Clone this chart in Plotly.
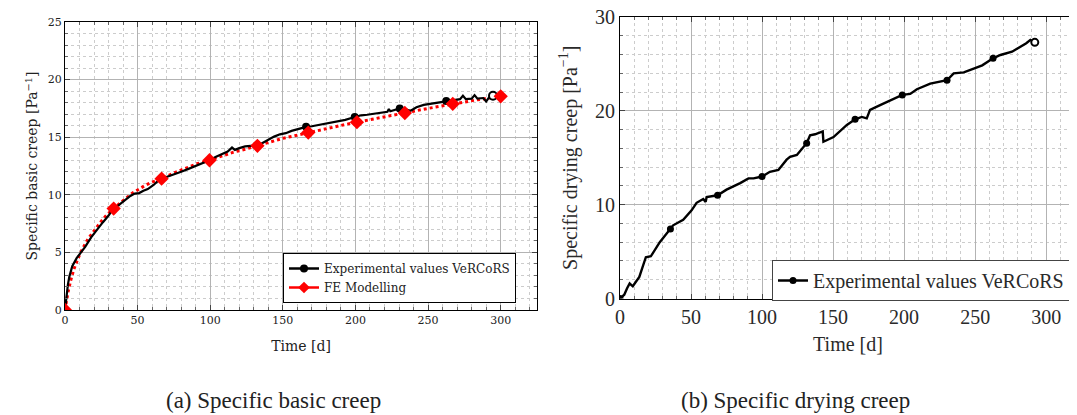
import plotly.graph_objects as go

# ---------------- data: (a) specific basic creep ----------------
exp_basic_t = [0, 1, 2, 3, 5, 8, 11, 14, 18, 22, 26, 30, 33, 37, 41, 45, 48, 51, 54, 57, 61, 64, 66.5,
               70, 75, 80, 85, 90, 95, 99.5, 104, 108, 112, 115, 117, 120, 124, 128, 132.5, 136, 140,
               144, 148, 152, 156, 160, 166, 170, 174, 178, 183, 188, 193, 199.5, 204, 208, 213, 218,
               222, 223, 224, 230.5, 234, 238, 242, 247, 252, 257, 262.5, 268, 272, 274, 276, 280, 282,
               284, 288, 290, 292, 294.7]
exp_basic_v = [0, 1.2, 2.2, 2.9, 3.8, 4.5, 5.0, 5.5, 6.3, 7.0, 7.6, 8.2, 8.75, 9.1, 9.5, 9.9, 10.1,
               10.15, 10.35, 10.5, 10.85, 11.2, 11.4, 11.55, 11.75, 12.0, 12.25, 12.5, 12.75, 13.0,
               13.3, 13.5, 13.75, 14.1, 13.9, 14.05, 14.2, 14.25, 14.3, 14.5, 14.8, 15.05, 15.25,
               15.35, 15.55, 15.7, 15.9, 15.95, 16.05, 16.1, 16.25, 16.4, 16.5, 16.75, 16.9, 16.95,
               17.05, 17.15, 17.2, 17.45, 17.25, 17.5, 17.45, 17.3, 17.6, 17.8, 17.9, 18.0, 18.15,
               18.2, 18.3, 18.6, 18.3, 18.35, 18.65, 18.35, 18.4, 18.1, 18.45, 18.6]
exp_basic_mark_t = [0, 33, 66.5, 99.5, 132.5, 166, 199.5, 230.5, 262.5]
exp_basic_mark_v = [0, 8.75, 11.4, 13.0, 14.3, 15.9, 16.75, 17.5, 18.15]
exp_basic_end_t = [294.7]
exp_basic_end_v = [18.6]

fe_t = [0, 2, 4, 6, 9, 12, 16, 20, 25, 29, 33.5, 40, 47, 55, 60, 66.5, 75, 83, 91, 99.5, 108, 116,
        124, 132.5, 141, 150, 159, 167.5, 176, 184, 193, 201, 209, 217, 226, 234, 242, 250, 259,
        267, 275, 284, 292, 300]
fe_v = [0, 1.5, 2.6, 3.5, 4.5, 5.3, 6.2, 6.9, 7.7, 8.3, 8.8, 9.5, 10.2, 10.8, 11.1, 11.4, 11.9,
        12.3, 12.7, 13.0, 13.35, 13.7, 13.95, 14.25, 14.6, 14.9, 15.15, 15.4, 15.65, 15.9, 16.1,
        16.3, 16.5, 16.7, 16.95, 17.1, 17.3, 17.5, 17.7, 17.9, 18.05, 18.25, 18.4, 18.55]
fe_mark_t = [0, 33.5, 66.5, 99.5, 132.5, 167.5, 201, 234, 267, 300]
fe_mark_v = [0, 8.8, 11.4, 13.0, 14.25, 15.4, 16.3, 17.1, 17.9, 18.55]

# ---------------- data: (b) specific drying creep ----------------
dry_t = [0, 3, 5, 6.8, 9, 13.6, 18.2, 21.7, 28, 35.5, 37.4, 44.5, 50.4, 53.9, 58.6, 60.3, 61, 68.7,
         75, 84.6, 90.4, 94, 100, 105.5, 111.5, 117.3, 119.7, 124.5, 131.4, 133.8, 137.3, 142.7,
         143.2, 150.3, 155, 159.7, 165.5, 170.2, 173.7, 176, 183.1, 189, 198.7, 204.3, 209, 218.4,
         225.5, 230.2, 234.9, 242, 249, 255, 262.6, 267.8, 276, 280.7, 286, 288.9, 292]
dry_v = [0, 0.4, 1.1, 1.6, 1.3, 2.3, 4.4, 4.5, 6.0, 7.4, 7.8, 8.4, 9.4, 10.2, 10.6, 10.3, 10.8,
         11.0, 11.6, 12.3, 12.8, 12.8, 13.0, 13.5, 13.7, 14.8, 15.1, 15.3, 16.55, 17.4, 17.5, 17.8,
         16.7, 17.2, 17.8, 18.5, 19.1, 19.35, 19.2, 20.1, 20.6, 21.0, 21.7, 21.8, 22.3, 22.9, 23.1,
         23.26, 24.0, 24.1, 24.5, 24.85, 25.6, 25.95, 26.3, 26.7, 27.2, 27.56, 27.3]
dry_mark_t = [0, 35.5, 68.7, 100, 131.4, 165.5, 198.7, 230.2, 262.6]
dry_mark_v = [0, 7.4, 11.0, 13.0, 16.55, 19.1, 21.7, 23.26, 25.6]
dry_end_t = [292]
dry_end_v = [27.3]

# ticks
basic_x_ticks = [0, 50, 100, 150, 200, 250, 300]
basic_y_ticks = [0, 5, 10, 15, 20, 25]
dry_x_ticks = [0, 50, 100, 150, 200, 250, 300]
dry_y_ticks = [0, 10, 20, 30]

# page body has an 8px margin: lay out in window pixels, shifted by the offset
OX, OY = 8, 8
W, H = 1077 - OX, 415 - OY


def px(x):
    return (x - OX) / W


def py(y):
    return 1 - (y - OY) / H


LF = "DejaVu Serif"
RF = "Liberation Serif"
RCOL = "#2a2a2a"

fig = go.Figure()

# ---- left plot ----
fig.add_trace(go.Scatter(x=fe_t, y=fe_v, mode="lines", line=dict(color="#ff0000", width=3, dash="dot"),
                         showlegend=False, xaxis="x", yaxis="y"))
fig.add_trace(go.Scatter(x=exp_basic_t, y=exp_basic_v, mode="lines", line=dict(color="black", width=2.2),
                         showlegend=False, xaxis="x", yaxis="y"))
fig.add_trace(go.Scatter(x=exp_basic_mark_t, y=exp_basic_mark_v, mode="markers",
                         marker=dict(color="black", size=8, symbol="circle"),
                         showlegend=False, xaxis="x", yaxis="y"))
fig.add_trace(go.Scatter(x=exp_basic_end_t, y=exp_basic_end_v, mode="markers",
                         marker=dict(color="white", size=8, symbol="circle", line=dict(color="black", width=2)),
                         showlegend=False, xaxis="x", yaxis="y"))
fig.add_trace(go.Scatter(x=fe_mark_t, y=fe_mark_v, mode="markers",
                         marker=dict(color="#ff0000", size=11, symbol="diamond"),
                         showlegend=False, xaxis="x", yaxis="y"))
# legend entries
fig.add_trace(go.Scatter(x=[None], y=[None], mode="lines+markers", name="Experimental values VeRCoRS",
                         line=dict(color="black", width=2.5), marker=dict(color="black", size=8),
                         legend="legend", xaxis="x", yaxis="y"))
fig.add_trace(go.Scatter(x=[None], y=[None], mode="lines+markers", name="FE Modelling",
                         line=dict(color="#ff0000", width=2.5), marker=dict(color="#ff0000", size=9, symbol="diamond"),
                         legend="legend", xaxis="x", yaxis="y"))

# ---- right plot ----
fig.add_trace(go.Scatter(x=dry_t, y=dry_v, mode="lines", line=dict(color="black", width=2.4),
                         showlegend=False, xaxis="x2", yaxis="y2"))
fig.add_trace(go.Scatter(x=dry_mark_t, y=dry_mark_v, mode="markers",
                         marker=dict(color="black", size=7, symbol="circle"),
                         showlegend=False, xaxis="x2", yaxis="y2"))
fig.add_trace(go.Scatter(x=dry_end_t, y=dry_end_v, mode="markers",
                         marker=dict(color="white", size=7, symbol="circle", line=dict(color="black", width=2)),
                         showlegend=False, xaxis="x2", yaxis="y2"))
fig.add_trace(go.Scatter(x=[None], y=[None], mode="lines+markers", name="Experimental values VeRCoRS",
                         line=dict(color="black", width=2.5), marker=dict(color="black", size=7),
                         legend="legend2", xaxis="x2", yaxis="y2"))


def axis(dom, rng, ticks, minor_dt, font, fsize, fcol, title, tsize, standoff, anchor):
    return dict(
        domain=dom, range=rng, anchor=anchor, tickvals=ticks, ticktext=[str(t) for t in ticks],
        automargin=False, ticklabeloverflow="allow",
        showline=True, linecolor="black", linewidth=1, mirror="ticks",
        ticks="inside", ticklen=5, tickcolor="#444", tickwidth=1,
        showgrid=True, gridcolor="#b3b3b3", gridwidth=1, zeroline=False,
        minor=dict(dtick=minor_dt, showgrid=True, gridcolor="#cccccc", griddash="dot", gridwidth=1,
                   ticks="inside", ticklen=3, tickcolor="#666"),
        tickfont=dict(family=font, size=fsize, color=fcol),
        title=dict(text=title, font=dict(family=font, size=tsize, color=fcol), standoff=standoff),
    )


fig.update_layout(
    width=W, height=H, margin=dict(l=0, r=0, t=0, b=0),
    paper_bgcolor="white", plot_bgcolor="white",
    xaxis=axis([px(65), px(537)], [0, 325], basic_x_ticks, 10, LF, 11, "#222", "Time [d]", 14, 14, "y"),
    yaxis=axis([py(310), py(22)], [0, 25], basic_y_ticks, 1, LF, 11, "#222",
               "Specific basic creep [Pa<sup>−1</sup>]", 14, 6, "x"),
    xaxis2=axis([px(620), px(1076)], [0, 321], dry_x_ticks, 10, RF, 20, RCOL, "Time [d]", 20, 10, "y2"),
    yaxis2=axis([py(298.5), py(17)], [0, 30], dry_y_ticks, 2, RF, 20, RCOL,
                "Specific drying creep [Pa<sup>−1</sup>]", 20, 12, "x2"),
    legend=dict(x=px(283), y=py(253), xanchor="left", yanchor="top", bgcolor="white",
                bordercolor="black", borderwidth=1, font=dict(family=LF, size=12, color="#222"),
                itemwidth=30, tracegroupgap=0),
    legend2=dict(x=px(772), y=py(260), xanchor="left", yanchor="top", bgcolor="white",
                 bordercolor="#444", borderwidth=1, font=dict(family=RF, size=20, color=RCOL),
                 itemwidth=30),
    annotations=[
        dict(text="(a) Specific basic creep", x=px(273), y=py(400), xref="paper", yref="paper",
             showarrow=False, font=dict(family=RF, size=23, color="#222"), xanchor="center", yanchor="middle"),
        dict(text="(b) Specific drying creep", x=px(795), y=py(400), xref="paper", yref="paper",
             showarrow=False, font=dict(family=RF, size=23, color="#222"), xanchor="center", yanchor="middle"),
    ],
)

fig.write_html("out.html")
